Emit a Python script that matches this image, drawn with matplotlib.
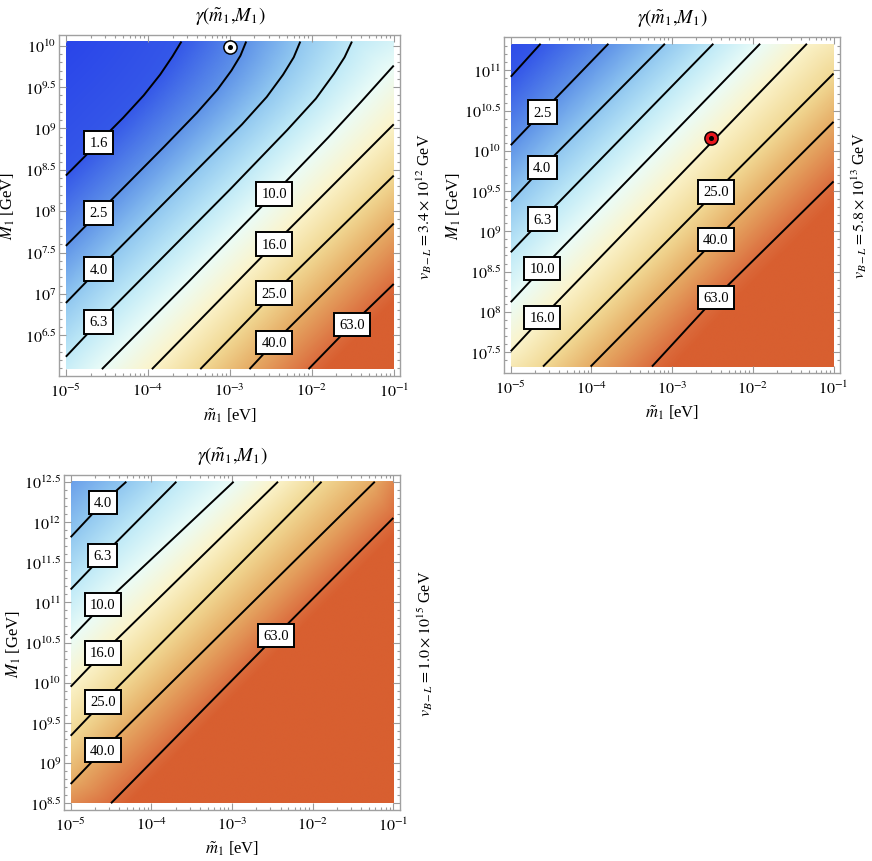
import numpy as np
import matplotlib.pyplot as plt
import matplotlib.tri as mtri
from matplotlib.colors import LinearSegmentedColormap

plt.rcParams['font.family'] = ['Liberation Serif', 'DejaVu Serif']
plt.rcParams['mathtext.fontset'] = 'stix'

# contour levels of gamma
levels = [1.6, 2.5, 4.0, 6.3, 10.0, 16.0, 25.0, 40.0, 63.0]

# ---- panel 1: v_B-L = 3.4e12 GeV ; traces in log10(m1/eV), log10(M1/GeV)
p1_M = [6.09, 10.05]
p1_x = [[-5.0, -4.6, -4.3, -4.05, -3.85, -3.70, -3.59],
        [-5.0, -4.6, -3.8, -3.4, -3.15, -2.98, -2.87, -2.80],
        [-5.0, -4.6, -3.4, -2.85, -2.55, -2.35, -2.22, -2.14],
        [-5.0, -4.6, -3.0, -2.3, -1.95, -1.73, -1.60, -1.51],
        [-4.56, -3.5, -2.46, -1.8, -1.4, -1.0],
        [-3.95, -2.46, -1.0],
        [-3.36, -2.46, -1.0],
        [-2.76, -2.46, -1.0],
        [-2.04, -1.51, -1.0]]
p1_y = [[8.43, 8.83, 9.13, 9.40, 9.65, 9.87, 10.05],
        [7.58, 7.98, 8.78, 9.19, 9.47, 9.70, 9.88, 10.05],
        [6.89, 7.30, 8.50, 9.05, 9.38, 9.65, 9.86, 10.05],
        [6.24, 6.66, 8.26, 8.98, 9.36, 9.66, 9.86, 10.05],
        [6.09, 7.15, 8.21, 8.89, 9.32, 9.76],
        [6.09, 7.60, 9.05],
        [6.09, 7.01, 8.43],
        [6.09, 6.41, 7.85],
        [6.09, 6.63, 7.12]]
p1_corners = [7.0, 1.2, 100.0, 8.0]   # gamma at (lo,lo) (lo,hi) (hi,lo) (hi,hi)
p1_labels = [-4.6, -4.6, -4.6, -4.6, -2.46, -2.46, -2.46, -2.46, -1.51]
p1_point = [-3.0, 9.98]

# ---- panel 2: v_B-L = 5.8e13 GeV
p2_M = [7.32, 11.33]
p2_x = [[-5.0, -4.63],
        [-5.0, -4.61, -3.79],
        [-5.0, -4.61, -3.09],
        [-5.0, -4.61, -2.49],
        [-5.0, -4.61, -1.91],
        [-5.0, -4.61, -1.33],
        [-4.60, -2.46, -1.0],
        [-4.01, -2.46, -1.0],
        [-3.25, -2.46, -1.0]]
p2_y = [[10.92, 11.33],
        [10.07, 10.48, 11.33],
        [9.37, 9.79, 11.33],
        [8.74, 9.15, 11.33],
        [8.12, 8.54, 11.33],
        [7.51, 7.93, 11.33],
        [7.32, 9.49, 10.96],
        [7.32, 8.90, 10.36],
        [7.32, 8.18, 9.62]]
p2_corners = [19.0, 1.35, 150.0, 19.0]
p2_labels = [None, -4.61, -4.61, -4.61, -4.61, -4.61, -2.46, -2.46, -2.46]
p2_point = [-2.52, 10.16]

# ---- panel 3: v_B-L = 1.0e15 GeV
p3_M = [8.5, 12.5]
p3_x = [[-5.0, -4.6, -4.31],
        [-5.0, -4.6, -3.69],
        [-5.0, -4.6, -2.98],
        [-5.0, -4.6, -2.43],
        [-5.0, -4.6, -1.89],
        [-5.0, -4.6, -1.23],
        [-4.50, -2.45, -1.0]]
p3_y = [[11.81, 12.24, 12.5],
        [11.16, 11.58, 12.5],
        [10.55, 10.97, 12.5],
        [9.95, 10.37, 12.5],
        [9.34, 9.76, 12.5],
        [8.74, 9.16, 12.5],
        [8.5, 10.59, 12.05]]
p3_corners = [50.0, 2.8, 300.0, 52.0]
p3_labels = [-4.6, -4.6, -4.6, -4.6, -4.6, -4.6, -2.45]
p3_levels = levels[2:]

cmap = LinearSegmentedColormap.from_list('gam', [
    (0.00, '#2a45ea'), (0.07, '#3558e8'), (0.18, '#5f93e8'), (0.29, '#8fc6f0'),
    (0.41, '#c0eaf7'), (0.52, '#eafcf8'), (0.63, '#fbf4cc'), (0.75, '#f1d893'),
    (0.86, '#e6ad66'), (0.97, '#dc7040'), (1.00, '#d85f30')])
vmin, vmax = np.log10(1.2), np.log10(70.0)

W, H = 872, 862
fig = plt.figure(figsize=(W / 100, H / 100), dpi=100)


def densify(xs, ys, n=60):
    xs = np.asarray(xs, float)
    ys = np.asarray(ys, float)
    s = np.concatenate([[0], np.cumsum(np.hypot(np.diff(xs), np.diff(ys)))])
    t = np.linspace(0, s[-1], n)
    return np.interp(t, s, xs), np.interp(t, s, ys)


def panel(box, lvls, xs, ys, mr, corners, labs, vbl, vx, point=None, pcol='white'):
    left, top, w, h = box
    ax = fig.add_axes([left / W, 1 - (top + h) / H, w / W, h / H])
    y0, y1 = mr
    px, py, pz = [], [], []
    for lv, tx, ty in zip(lvls, xs, ys):
        dx, dy = densify(tx, ty)
        px += list(dx)
        py += list(dy)
        pz += [np.log10(lv)] * len(dx)
    for (cx, cy), cv in zip([(-5, y0), (-5, y1), (-1, y0), (-1, y1)], corners):
        px.append(cx)
        py.append(cy)
        pz.append(np.log10(cv))
    tri = mtri.Triangulation(px, py)
    fz = mtri.LinearTriInterpolator(tri, np.array(pz))
    gx, gy = np.meshgrid(np.linspace(-5, -1, 500), np.linspace(y0, y1, 500))
    zz = fz(gx, gy)
    ax.imshow(zz, extent=(-5, -1, y0, y1), origin='lower', aspect='auto',
              cmap=cmap, vmin=vmin, vmax=vmax, interpolation='bilinear')
    for lv, tx, ty, lx in zip(lvls, xs, ys, labs):
        ax.plot(tx, ty, color='black', lw=1.4, solid_capstyle='butt',
                solid_joinstyle='round', zorder=3)
        if lx is not None:
            ly = np.interp(lx, tx, ty)
            ax.text(lx, ly, '%.1f' % lv, ha='center', va='center', fontsize=10.5,
                    zorder=5, bbox=dict(boxstyle='square,pad=0.36', fc='white',
                                        ec='black', lw=1.4))
    if point is not None:
        ax.plot(point[0], point[1], 'o', ms=9.5, mfc=pcol, mec='black', mew=1.1,
                zorder=6, clip_on=False)
        ax.plot(point[0], point[1], 'o', ms=2.6, color='black', zorder=7,
                clip_on=False)

    px_ = 0.02 * 4
    py_ = 0.02 * (y1 - y0)
    ax.set_xlim(-5 - px_, -1 + px_)
    ax.set_ylim(y0 - py_, y1 + py_)
    ax.set_xticks(range(-5, 0))
    ax.set_xticklabels([r'$10^{%d}$' % d for d in range(-5, 0)])
    ax.set_xticks([d + np.log10(k) for d in range(-5, -1) for k in range(2, 10)],
                  minor=True)
    yt = np.arange(np.ceil(y0 * 2) / 2, y1 + 1e-6, 0.5)
    ax.set_yticks(yt)
    ax.set_yticklabels([r'$10^{%g}$' % v for v in yt])
    ym = np.arange(np.ceil(y0 * 10) / 10, y1 + 1e-6, 0.1)
    ax.set_yticks(ym, minor=True)
    ax.tick_params(which='both', direction='in', top=True, right=True,
                   color='#9a9a9a', width=0.8, labelsize=11.5)
    ax.tick_params(which='major', length=5)
    ax.tick_params(which='minor', length=2.5)
    ax.tick_params(axis='x', pad=5)
    ax.tick_params(axis='y', pad=2)
    for s in ax.spines.values():
        s.set_color('#a0a0a0')
        s.set_linewidth(1.0)

    ax.text(0.5, 1.06, r'$\gamma(\tilde{m}_1{,}M_1)$', transform=ax.transAxes,
            ha='center', va='center', fontsize=13.5)
    ax.text(0.5, -0.115, r'$\tilde{m}_1$ [eV]', transform=ax.transAxes,
            ha='center', va='center', fontsize=12)
    ax.text(-0.15, 0.5, r'$M_1$ [GeV]', transform=ax.transAxes, rotation=90,
            ha='center', va='center', fontsize=12)
    ax.text(vx, 0.5, r'$v_{B-L} = %s \times 10^{%d}$ GeV' % vbl,
            transform=ax.transAxes, rotation=90, ha='center', va='center',
            fontsize=11.5)
    return ax


panel((59.3, 36.0, 341.0, 340.7), levels, p1_x, p1_y, p1_M, p1_corners,
      p1_labels, ('3.4', 12), 1.07, p1_point, 'white')
panel((504.3, 38.3, 335.7, 335.7), levels, p2_x, p2_y, p2_M, p2_corners,
      p2_labels, ('5.8', 13), 1.058, p2_point, '#e8161c')
panel((64.2, 476.3, 335.6, 334.4), p3_levels, p3_x, p3_y, p3_M, p3_corners,
      p3_labels, ('1.0', 15), 1.075)

fig.savefig('out.png', dpi=100)
